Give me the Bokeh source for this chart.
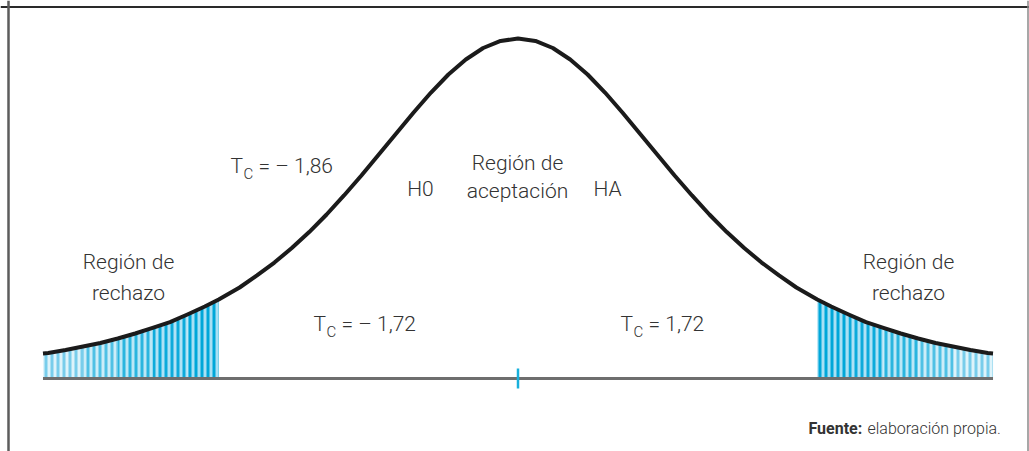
from bokeh.plotting import figure
from bokeh.models import Label, Span
from bokeh.embed import file_html
from bokeh.resources import INLINE

# Estadístico t (abscisa) y densidad de la curva (ordenada)
t_vals = [-2.73, -2.7, -2.6, -2.5, -2.4, -2.3, -2.2, -2.1, -2.0, -1.9, -1.8,
          -1.72, -1.7, -1.6, -1.5, -1.4, -1.3, -1.2, -1.1, -1.0, -0.9, -0.8,
          -0.7, -0.6, -0.5, -0.4, -0.3, -0.2, -0.1, 0.0, 0.1, 0.2, 0.3, 0.4,
          0.5, 0.6, 0.7, 0.8, 0.9, 1.0, 1.1, 1.2, 1.3, 1.4, 1.5, 1.6, 1.7,
          1.72, 1.8, 1.9, 2.0, 2.1, 2.2, 2.3, 2.4, 2.5, 2.6, 2.7, 2.73]
densidad = [0.0271, 0.0276, 0.0308, 0.0346, 0.0384, 0.0433, 0.0487, 0.0547,
            0.0611, 0.0693, 0.0779, 0.0855, 0.0877, 0.0985, 0.1115, 0.1255,
            0.1412, 0.1585, 0.1775, 0.1981, 0.2197, 0.2424, 0.2652, 0.2879,
            0.3095, 0.3290, 0.3452, 0.3577, 0.3653, 0.3680, 0.3653, 0.3577,
            0.3452, 0.3290, 0.3095, 0.2879, 0.2652, 0.2424, 0.2197, 0.1981,
            0.1775, 0.1585, 0.1412, 0.1255, 0.1115, 0.0985, 0.0877, 0.0855,
            0.0779, 0.0693, 0.0611, 0.0547, 0.0487, 0.0433, 0.0384, 0.0346,
            0.0308, 0.0276, 0.0271]

# Valores críticos
t_critico = 1.72
t_calculado = -1.86

W, H = 1029, 451
# pixel scale of the drawing
PX_X = 174.0      # pixels per unit of t
PX_Y = 924.0      # pixels per unit of density
CX = 517.5        # pixel column of t = 0
BY = 378.0        # pixel row of density = 0


def gx(px):
    return (px - CX) / PX_X


def gy(py):
    return (BY - py) / PX_Y


p = figure(width=W, height=H, x_range=(gx(0), gx(W)), y_range=(gy(H), gy(0)),
           output_backend="svg", toolbar_location=None, min_border=0)
p.axis.visible = False
p.grid.visible = False
p.outline_line_color = None
p.background_fill_color = "white"
p.border_fill_color = "white"

# frame of the figure box
p.add_layout(Span(location=gy(6.5), dimension="width", line_color="#2a2a2a", line_width=2))
p.add_layout(Span(location=gx(8), dimension="height", line_color="#5c5c5c", line_width=2.5))
p.add_layout(Span(location=gx(1027.5), dimension="height", line_color="#8a8a8a", line_width=1.5))

# rejection regions: stripes fade from the critical value outwards
bandas = [  # (|t| from, |t| to, fill, stripe colour)
    (1.72, 1.9, "#a9e0f4", "#00a7d9"),
    (1.9, 2.1, "#b0e2f5", "#0dabdb"),
    (2.1, 2.3, "#bce7f6", "#2ab5df"),
    (2.3, 2.5, "#cdedf8", "#4fc1e5"),
    (2.5, 2.73, "#def3fa", "#78cdeb"),
]
for lo, hi, fill, stripe in bandas:
    for sign in (-1, 1):
        pts = [(t, d) for t, d in zip(t_vals, densidad) if lo <= sign * t <= hi]
        p.varea(x=[q[0] for q in pts], y1=0, y2=[q[1] for q in pts],
                fill_color=fill, hatch_pattern="vertical_line",
                hatch_color=stripe, hatch_weight=3, hatch_scale=6)

# base line and centre tick
p.segment(x0=t_vals[0], y0=0, x1=t_vals[-1], y1=0, line_color="#6e6e6e", line_width=3)
p.segment(x0=0, y0=gy(388), x1=0, y1=gy(368), line_color="#18b0dc", line_width=2.5)

# density curve
p.line(t_vals, densidad, line_color="#1b1b1b", line_width=4, line_join="round")

FONT = "Roboto Light"
COL = "#333333"


def lab(px, py, text, size=21, align="left", style="normal", font=FONT):
    p.add_layout(Label(x=gx(px), y=gy(py), text=text, text_font=font,
                       text_font_size=f"{size}px", text_color=COL,
                       text_align=align, text_baseline="middle",
                       text_font_style=style))


def tc(px, py, rest):
    lab(px, py, "T")
    lab(px + 13, py + 8, "C", size=15)
    lab(px + 28, py, rest)


tc(230, 165, "= \u2013 1,86")
tc(313, 323, "= \u2013 1,72")
tc(620, 323, "= 1,72")

lab(420, 188, "H0", align="center")
lab(607, 188, "HA", align="center")
lab(517, 162, "Región de", align="center")
lab(517, 190, "aceptación", align="center")
lab(128, 261, "Región de", align="center")
lab(128, 292, "rechazo", align="center")
lab(908, 261, "Región de", align="center")
lab(908, 292, "rechazo", align="center")

lab(808, 428, "Fuente:", size=16, style="bold", font="Roboto")
lab(867, 428, "elaboración propia.", size=16)

open("out.html", "w").write(file_html(p, INLINE))
